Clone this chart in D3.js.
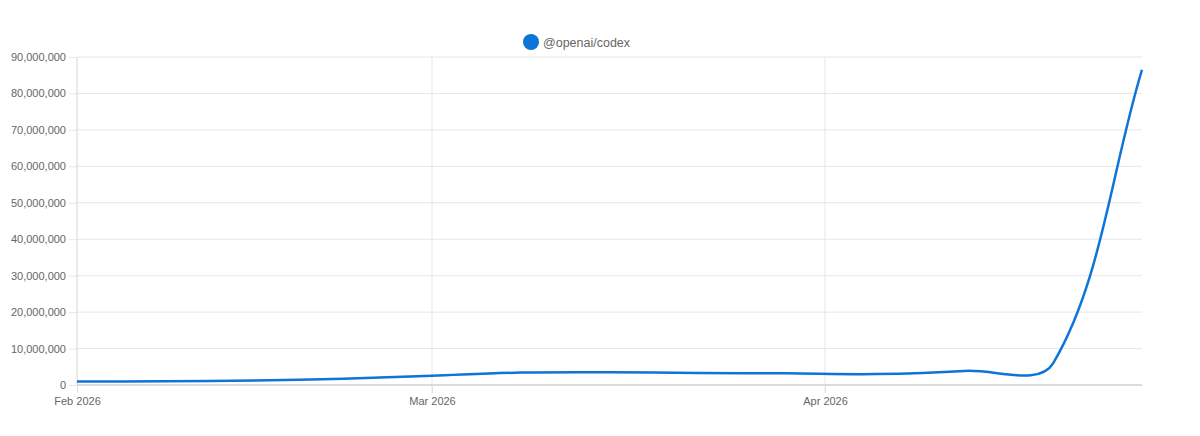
<!DOCTYPE html>
<html>
<head>
<meta charset="utf-8">
<script src="https://cdn.jsdelivr.net/npm/d3@7"></script>
<style>
  body { margin: 0; background: #fff; }
  svg { display: block; font-family: "Liberation Sans", Arial, Helvetica, sans-serif; }
</style>
</head>
<body>
<svg id="chart" width="1200" height="436"></svg>
<script>
// weekly downloads, @openai/codex
var weeks = ["2026-02-01", "2026-02-08", "2026-02-15", "2026-02-22", "2026-03-01", "2026-03-08",
             "2026-03-15", "2026-03-22", "2026-03-29", "2026-04-05", "2026-04-12", "2026-04-19", "2026-04-26"];
var downloads = [950000, 1000000, 1250000, 1700000, 2550000, 3400000,
                 3500000, 3300000, 3200000, 3000000, 3850000, 6000000, 86500000];
var seriesName = "@openai/codex";
var yTicks = [0, 10000000, 20000000, 30000000, 40000000, 50000000, 60000000, 70000000, 80000000, 90000000];
var xTicks = ["2026-02-01", "2026-03-01", "2026-04-01"];

var svg = d3.select("#chart");
var margin = { top: 57, right: 58, bottom: 51, left: 77 };
var width = 1200 - margin.left - margin.right;
var height = 436 - margin.top - margin.bottom;
var lineColor = "#0d74d8";
var tension = 0.35;

var parse = d3.timeParse("%Y-%m-%d");
var data = weeks.map((d, i) => ({ date: parse(d), value: downloads[i] }));

var x = d3.scaleTime()
    .domain(d3.extent(data, d => d.date))
    .range([0, width]);
var y = d3.scaleLinear()
    .domain([0, 90000000])
    .range([height, 0]);

var g = svg.append("g").attr("transform", `translate(${margin.left},${margin.top})`);

// horizontal grid
g.append("g")
    .selectAll("line")
    .data(yTicks.slice(1))
    .enter()
    .append("line")
    .attr("x1", 0).attr("x2", width)
    .attr("y1", d => y(d)).attr("y2", d => y(d))
    .attr("stroke", "#e6e6e6");

// vertical grid
g.append("g")
    .selectAll("line")
    .data(xTicks.slice(1))
    .enter()
    .append("line")
    .attr("x1", d => x(parse(d))).attr("x2", d => x(parse(d)))
    .attr("y1", 0).attr("y2", height + 8)
    .attr("stroke", "#e6e6e6");

// y axis
var yAxis = d3.axisLeft(y)
    .tickValues(yTicks)
    .tickSize(8)
    .tickPadding(3)
    .tickFormat(d3.format(","));
var ya = g.append("g").call(yAxis);
ya.select(".domain").attr("stroke", "#d6d6d6").attr("d", `M0,0V${height}`);
ya.selectAll(".tick line").attr("stroke", "#e6e6e6");
ya.selectAll("text").attr("fill", "#666").attr("font-size", 11)
    .attr("font-family", "Liberation Sans, Arial, sans-serif");

// x axis
var xAxis = d3.axisBottom(x)
    .tickValues(xTicks.map(parse))
    .tickSize(8)
    .tickPadding(4)
    .tickFormat(d3.timeFormat("%b %Y"));
var xa = g.append("g").attr("transform", `translate(0,${height})`).call(xAxis);
xa.select(".domain").attr("stroke", "#cfcfcf").attr("stroke-width", 1.5).attr("d", `M0,0H${width}`);
xa.selectAll(".tick line").attr("stroke", "#e0e0e0");
xa.selectAll("text").attr("fill", "#666").attr("font-size", 11)
    .attr("font-family", "Liberation Sans, Arial, sans-serif");

// spline like the one chart.js draws (control points scaled by neighbour distance)
function splinePath(pts, t) {
    var cps = pts.map((cur, i) => {
        var prev = pts[i - 1] || cur, next = pts[i + 1] || cur;
        var d01 = Math.hypot(cur[0] - prev[0], cur[1] - prev[1]);
        var d12 = Math.hypot(next[0] - cur[0], next[1] - cur[1]);
        var s01 = d01 / (d01 + d12) || 0, s12 = d12 / (d01 + d12) || 0;
        var fa = t * s01, fb = t * s12;
        return {
            before: [cur[0] - fa * (next[0] - prev[0]), cur[1] - fa * (next[1] - prev[1])],
            after: [cur[0] + fb * (next[0] - prev[0]), cur[1] + fb * (next[1] - prev[1])]
        };
    });
    var p = d3.path();
    p.moveTo(pts[0][0], pts[0][1]);
    for (var i = 1; i < pts.length; i++) {
        var a = cps[i - 1].after, b = cps[i].before;
        p.bezierCurveTo(a[0], a[1], b[0], b[1], pts[i][0], pts[i][1]);
    }
    return p.toString();
}

var pts = data.map(d => [x(d.date), y(d.value)]);

g.append("path")
    .attr("d", splinePath(pts, tension))
    .attr("fill", "none")
    .attr("stroke", lineColor)
    .attr("stroke-width", 2.5);

// legend
var legend = svg.append("g").attr("transform", "translate(531,42)");
legend.append("circle").attr("r", 8).attr("fill", lineColor);
legend.append("text")
    .attr("x", 12)
    .attr("y", 4.5)
    .attr("fill", "#666")
    .attr("font-size", 12.5)
    .text(seriesName);
</script>
</body>
</html>
